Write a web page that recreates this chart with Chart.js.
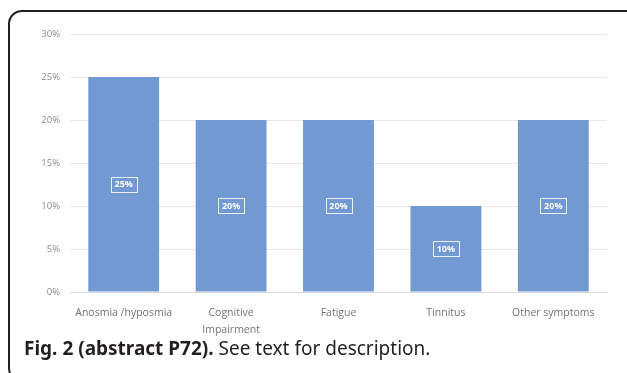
<!DOCTYPE html>
<html>
<head>
<meta charset="utf-8">
<script src="https://cdn.jsdelivr.net/npm/chart.js@4"></script>
<style>
  body { margin: 0; background: #fff; width: 627px; height: 373px; overflow: hidden; position: relative; }
  #frame { position: absolute; left: 8px; top: 10px; width: 650px; height: 372px; border: 2px solid #231f20; border-radius: 14px; box-sizing: border-box; }
  #wrap { position: absolute; left: 0; top: 0; width: 627px; height: 340px; }
  #caption { position: absolute; left: 24px; top: 335px; font-family: "Noto Sans", sans-serif; font-size: 19px; color: #231f20; white-space: nowrap; }
  #caption b { font-weight: bold; }
</style>
</head>
<body>
<div id="frame"></div>
<div id="wrap"><canvas id="myChart"></canvas></div>
<div id="caption"><b>Fig. 2 (abstract P72).</b> See text for description.</div>
<script>
// data
var categories = ['Anosmia /hyposmia', ['Cognitive', 'Impairment'], 'Fatigue', 'Tinnitus', 'Other symptoms'];
var percentValues = [25, 20, 20, 10, 20];
var tickValues = [0, 5, 10, 15, 20, 25, 30];

// white boxed labels in the middle of each bar
var boxLabels = {
  id: 'boxLabels',
  afterDatasetsDraw(chart) {
    var ctx = chart.ctx;
    var meta = chart.getDatasetMeta(0);
    ctx.save();
    ctx.font = 'bold 9px "Open Sans", sans-serif';
    ctx.textAlign = 'center';
    ctx.textBaseline = 'middle';
    meta.data.forEach(function (bar, i) {
      var cx = bar.x;
      var cy = (bar.y + bar.base) / 2;
      var txt = percentValues[i] + '%';
      ctx.strokeStyle = 'rgba(255,255,255,0.85)';
      ctx.lineWidth = 1;
      ctx.strokeRect(Math.round(cx - 13) + 0.5, Math.round(cy - 7.5) + 0.5, 26, 15);
      ctx.fillStyle = 'rgba(255,255,255,0.95)';
      ctx.fillText(txt, cx, cy + 0.5);
    });
    ctx.restore();
  }
};

var ctx = document.getElementById('myChart').getContext('2d');
var myChart = new Chart(ctx, {
  type: 'bar',
  data: {
    labels: categories,
    datasets: [{
      label: 'Symptoms',
      data: percentValues,
      backgroundColor: '#7399d2',
      barPercentage: 0.66,
      categoryPercentage: 1.0
    }]
  },
  options: {
    responsive: true,
    maintainAspectRatio: false,
    animation: false,
    layout: { padding: { left: 30, right: 20, top: 34, bottom: 0 } },
    plugins: {
      legend: { display: false },
      tooltip: { enabled: false }
    },
    scales: {
      x: {
        grid: { display: false },
        border: { color: '#d9d9d9' },
        ticks: {
          color: '#727272',
          font: { family: '"Open Sans", sans-serif', size: 10.5, lineHeight: 1.6 },
          padding: 5,
          maxRotation: 0,
          autoSkip: false
        },
        afterFit: function (s) { s.height = 48; }
      },
      y: {
        min: 0,
        max: 30,
        afterBuildTicks: function (s) { s.ticks = tickValues.map(function (v) { return { value: v }; }); },
        grid: { color: '#e8e8e8', drawTicks: false },
        border: { display: false },
        ticks: {
          color: '#8a8a8a',
          font: { family: '"Open Sans", sans-serif', size: 9.5 },
          padding: 10,
          callback: function (v) { return v + '%'; }
        },
        afterFit: function (s) { s.width = 40; }
      }
    }
  },
  plugins: [boxLabels]
});
</script>
</body>
</html>
